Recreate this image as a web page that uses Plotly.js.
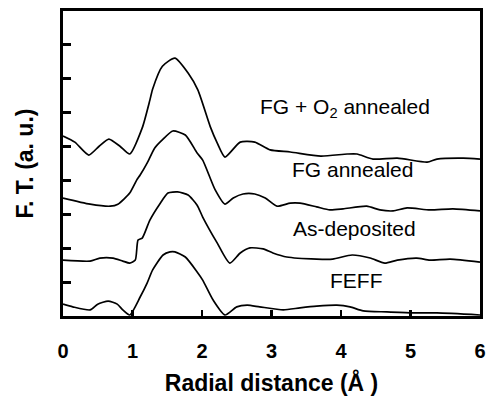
<!DOCTYPE html>
<html>
<head>
<meta charset="utf-8">
<script src="https://cdn.plot.ly/plotly-3.0.1.min.js"></script>
<style>html,body{margin:0;padding:0;background:#fff;}</style>
</head>
<body>
<div id="chart" style="width:489px;height:396px;"></div>
<script>
// FG + O2 annealed
const x1 = [0,0.17,0.37,0.52,0.66,0.82,0.96,1.14,1.25,1.29,1.43,1.61,1.80,1.94,2.12,2.22,2.33,2.55,2.76,2.98,3.27,3.71,4.09,4.23,4.46,4.81,5.24,5.38,5.76,6.0];
const y1 = [5.31,5.13,4.75,5.01,5.22,5.01,4.78,5.55,6.37,6.70,7.37,7.61,7.17,6.67,5.58,5.10,4.69,5.13,5.13,4.90,4.84,4.72,4.78,4.78,4.63,4.66,4.54,4.63,4.66,4.63];
// FG annealed
const x2 = [0,0.39,0.68,0.79,0.96,1.06,1.11,1.21,1.32,1.44,1.58,1.76,1.93,2.01,2.19,2.33,2.45,2.59,2.76,2.91,3.08,3.27,3.41,3.65,3.84,4.03,4.37,4.56,4.75,4.95,5.28,5.61,6.0];
const y2 = [3.48,3.30,3.24,3.30,3.63,4.01,4.16,4.51,4.96,5.22,5.46,5.34,4.81,4.60,3.72,3.30,3.48,3.60,3.60,3.48,3.24,3.33,3.33,3.22,3.13,3.16,3.24,3.13,3.10,3.19,3.13,3.16,3.10];
// As-deposited
const x3 = [0,0.39,0.53,0.72,0.86,0.96,1.04,1.08,1.14,1.25,1.40,1.51,1.65,1.80,1.93,2.01,2.22,2.40,2.55,2.69,2.88,3.02,3.22,3.65,3.88,4.16,4.42,4.63,4.81,5.09,5.28,5.57,6.0];
const y3 = [1.65,1.62,1.71,1.71,1.62,1.56,1.65,2.24,2.30,2.83,3.33,3.63,3.66,3.57,3.27,2.92,2.15,1.56,1.86,2.01,1.98,1.86,1.74,1.68,1.68,1.80,1.71,1.56,1.65,1.71,1.65,1.68,1.59];
// FEFF
const x4 = [0,0.14,0.39,0.50,0.65,0.78,0.86,0.96,1.11,1.21,1.29,1.44,1.54,1.61,1.76,1.93,2.01,2.16,2.33,2.50,2.65,2.83,3.17,3.41,3.65,3.94,4.13,4.32,4.66,5.04,5.38,6.0];
const y4 = [0.35,0.27,0.18,0.35,0.44,0.35,0.18,0.03,0.56,0.97,1.36,1.80,1.89,1.89,1.74,1.30,1.06,0.47,0.03,0.27,0.32,0.27,0.18,0.24,0.29,0.32,0.27,0.15,0.12,0.09,0.09,0.03];

const labels = ["FG + O<sub>2</sub> annealed", "FG annealed", "As-deposited", "FEFF"];
const labelX = [4.06, 4.16, 4.20, 4.23];
const labelY = [6.14, 4.31, 2.57, 1.06];
const xTicks = [0,1,2,3,4,5,6];
const yTicks = [0,1,2,3,4,5,6,7,8,9];

const series = [[x1,y1],[x2,y2],[x3,y3],[x4,y4]];
const traces = series.map(s => ({
  x: s[0], y: s[1], type: 'scatter', mode: 'lines',
  line: {color: '#000', width: 1.7, shape: 'spline', smoothing: 0.6},
  hoverinfo: 'skip', showlegend: false
}));

const font = 'Liberation Sans, Arial, sans-serif';
const layout = {
  width: 489, height: 396,
  margin: {l: 63, r: 9, t: 11, b: 80},
  paper_bgcolor: '#fff', plot_bgcolor: '#fff',
  showlegend: false,
  xaxis: {
    range: [0, 6], tickvals: xTicks, ticktext: xTicks.map(v => '<b>' + v + '</b>'),
    ticks: 'inside', ticklen: 6, tickwidth: 2.5, tickcolor: '#000',
    showline: true, linewidth: 3, linecolor: '#000', mirror: true,
    showgrid: false, zeroline: false,
    ticklabelstandoff: 15,
    tickfont: {family: font, size: 20, color: '#000', weight: 700},
    title: {text: '<b>Radial distance (Å )</b>', standoff: 14,
            font: {family: font, size: 23, color: '#000'}}
  },
  yaxis: {
    range: [0, 9], tickvals: yTicks, showticklabels: false,
    ticks: 'inside', ticklen: 8, tickwidth: 3, tickcolor: '#000',
    showline: true, linewidth: 3, linecolor: '#000', mirror: true,
    showgrid: false, zeroline: false,
    title: {text: '<b>F. T. (a. u.)</b>', standoff: 20,
            font: {family: font, size: 23, color: '#000'}}
  },
  annotations: labels.map((t, i) => ({
    x: labelX[i], y: labelY[i], xref: 'x', yref: 'y', text: t,
    showarrow: false, xanchor: 'center', yanchor: 'middle',
    font: {family: font, size: 21, color: '#000'}
  }))
};

Plotly.newPlot('chart', traces, layout, {staticPlot: true, displayModeBar: false});
</script>
</body>
</html>
